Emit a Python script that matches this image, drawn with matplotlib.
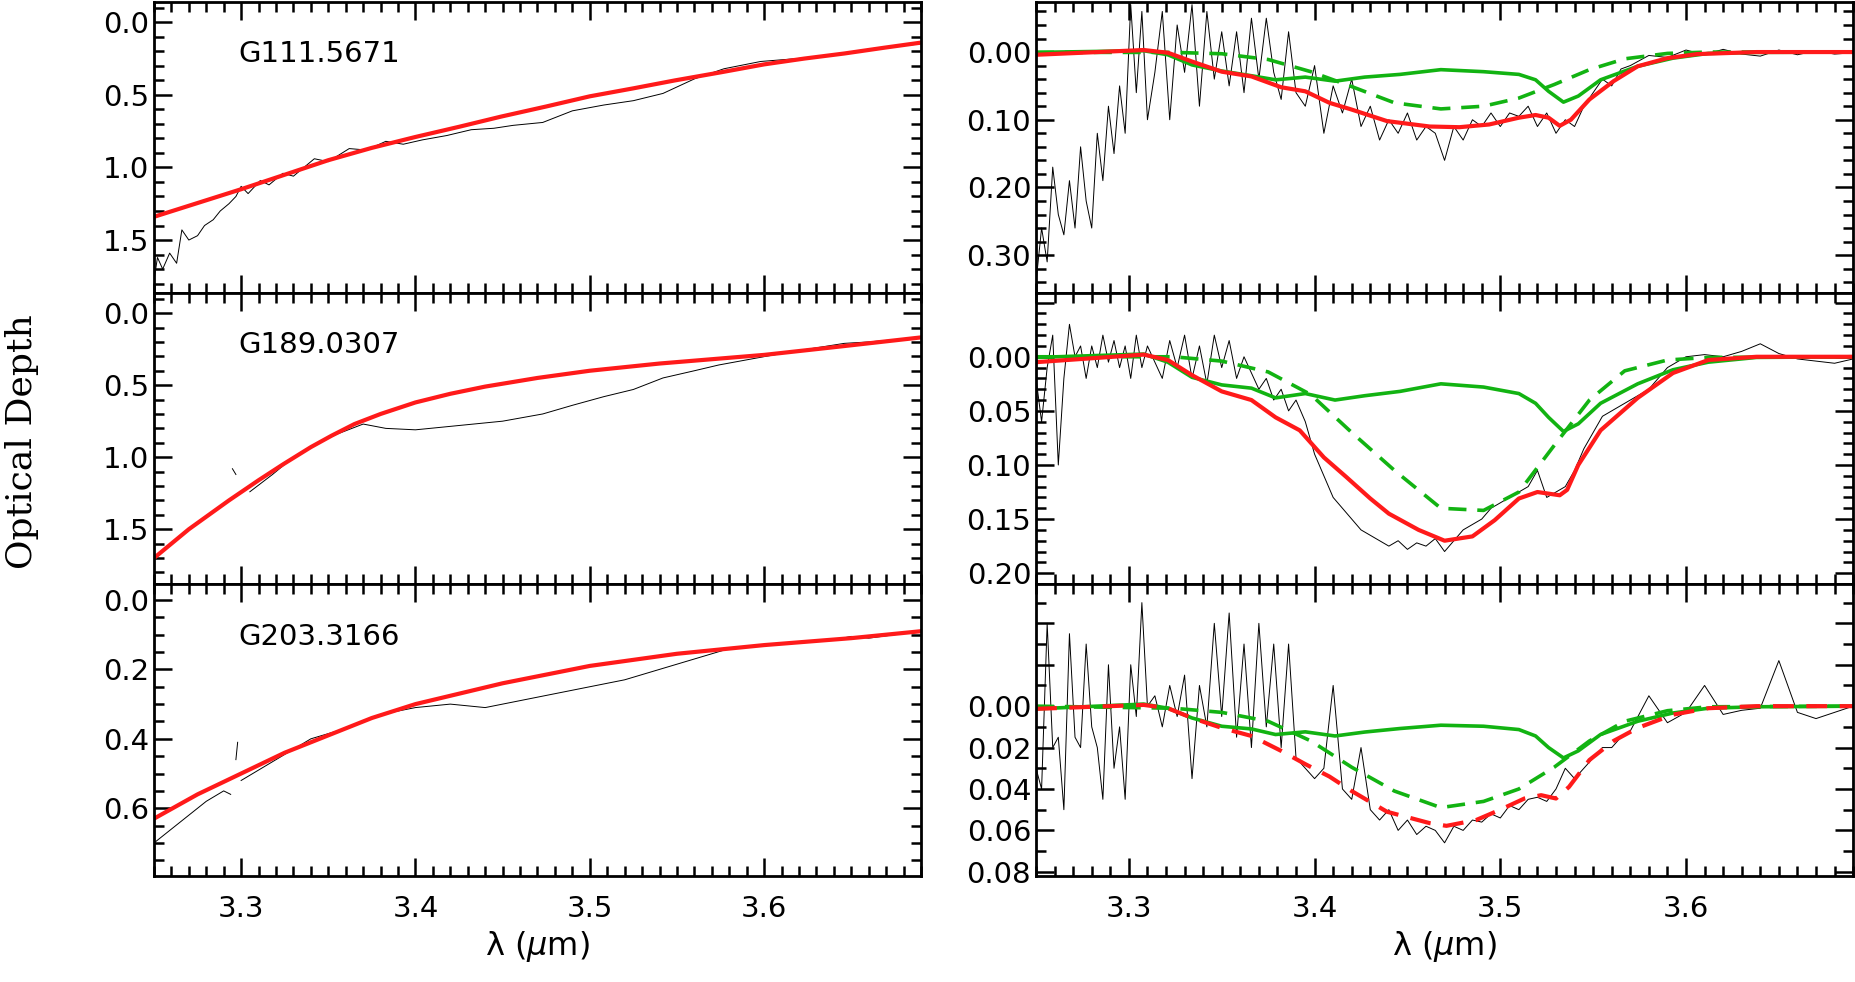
import numpy as np
import matplotlib.pyplot as plt
from matplotlib.ticker import MultipleLocator, FuncFormatter

NAMES = ["G111.5671", "G189.0307", "G203.3166"]

# ---- left panels: observed optical depth and continuum fit ----
L1_WAVE = [3.250, 3.252, 3.255, 3.259, 3.263, 3.266, 3.270, 3.275, 3.279, 3.284, 3.288, 3.293, 3.297,
           3.300, 3.304, 3.311, 3.316, 3.324, 3.330, 3.342, 3.350, 3.362, 3.372, 3.383, 3.393, 3.404,
           3.418, 3.432, 3.445, 3.456, 3.473, 3.490, 3.508, 3.525, 3.542, 3.560, 3.577, 3.598, 3.629,
           3.663, 3.689]
L1_TAU = [1.78, 1.62, 1.70, 1.59, 1.66, 1.43, 1.50, 1.47, 1.40, 1.36, 1.30, 1.25, 1.20,
          1.13, 1.18, 1.09, 1.12, 1.04, 1.06, 0.94, 0.96, 0.87, 0.88, 0.82, 0.84, 0.81,
          0.78, 0.74, 0.73, 0.71, 0.69, 0.61, 0.57, 0.54, 0.49, 0.39, 0.32, 0.27, 0.24,
          0.18, 0.15]
L1_CONT_WAVE = [3.25, 3.275, 3.30, 3.325, 3.35, 3.375, 3.40, 3.425, 3.449, 3.475, 3.50, 3.525, 3.549,
                3.575, 3.60, 3.623, 3.646, 3.669, 3.69]
L1_CONT = [1.34, 1.245, 1.15, 1.05, 0.95, 0.865, 0.79, 0.72, 0.65, 0.58, 0.51, 0.455, 0.40,
           0.345, 0.29, 0.25, 0.215, 0.175, 0.14]

L2_WAVE = [3.295, 3.297, np.nan, 3.305, 3.318, 3.33, 3.343, 3.355, 3.37, 3.383, 3.40, 3.425, 3.45,
           3.473, 3.49, 3.508, 3.525, 3.542, 3.56, 3.574, 3.601, 3.62, 3.646, 3.66, 3.689]
L2_TAU = [1.08, 1.12, np.nan, 1.24, 1.12, 1.00, 0.91, 0.84, 0.77, 0.80, 0.81, 0.78, 0.75,
          0.70, 0.64, 0.58, 0.53, 0.45, 0.40, 0.36, 0.30, 0.26, 0.21, 0.20, 0.17]
L2_CONT_WAVE = [3.25, 3.27, 3.293, 3.31, 3.324, 3.34, 3.352, 3.365, 3.38, 3.40, 3.42, 3.44, 3.47,
                3.50, 3.54, 3.57, 3.60, 3.645, 3.689]
L2_CONT = [1.70, 1.50, 1.30, 1.16, 1.05, 0.93, 0.85, 0.77, 0.70, 0.62, 0.56, 0.51, 0.45,
           0.40, 0.35, 0.32, 0.29, 0.23, 0.17]

L3_WAVE = [3.25, 3.26, 3.27, 3.28, 3.29, 3.294, np.nan, 3.297, 3.298, np.nan, 3.30, 3.32, 3.34,
           3.36, 3.38, 3.40, 3.42, 3.44, 3.46, 3.48, 3.50, 3.52, 3.54, 3.56, 3.58, 3.60, 3.62,
           3.64, 3.65, 3.66, 3.69]
L3_TAU = [0.70, 0.66, 0.62, 0.58, 0.55, 0.56, np.nan, 0.46, 0.41, np.nan, 0.52, 0.46, 0.40,
          0.37, 0.33, 0.31, 0.30, 0.31, 0.29, 0.27, 0.25, 0.23, 0.20, 0.17, 0.14, 0.13, 0.12,
          0.115, 0.105, 0.11, 0.09]
L3_CONT_WAVE = [3.25, 3.275, 3.30, 3.325, 3.35, 3.375, 3.40, 3.425, 3.45, 3.475, 3.50, 3.55, 3.60,
                3.65, 3.69]
L3_CONT = [0.63, 0.56, 0.50, 0.44, 0.39, 0.34, 0.30, 0.27, 0.24, 0.215, 0.19, 0.155, 0.13,
           0.11, 0.09]

# ---- right panels: residual aliphatic feature and fits ----
WAVE_R = [3.250, 3.253, 3.256, 3.259, 3.262, 3.265, 3.268, 3.271, 3.274, 3.277, 3.280, 3.283, 3.286,
          3.289, 3.292, 3.295, 3.298, 3.301, 3.304, 3.307, 3.310, 3.314, 3.318, 3.322, 3.326, 3.330,
          3.334, 3.338, 3.342, 3.346, 3.350, 3.354, 3.358, 3.362, 3.366, 3.370, 3.374, 3.378, 3.382,
          3.386, 3.390, 3.395, 3.400, 3.405, 3.410, 3.415, 3.420, 3.425, 3.430, 3.435, 3.440, 3.445,
          3.450, 3.455, 3.460, 3.465, 3.470, 3.475, 3.480, 3.485, 3.490, 3.495, 3.500, 3.505, 3.510,
          3.515, 3.520, 3.525, 3.530, 3.535, 3.540, 3.545, 3.550, 3.555, 3.560, 3.565, 3.570, 3.580,
          3.590, 3.600, 3.610, 3.620, 3.630, 3.640, 3.650, 3.660, 3.670, 3.680, 3.690]
R1_TAU = [0.34, 0.26, 0.31, 0.17, 0.24, 0.27, 0.19, 0.26, 0.14, 0.22, 0.26, 0.12, 0.19,
          0.08, 0.15, 0.05, 0.12, -0.07, 0.06, -0.06, 0.10, 0.03, -0.06, 0.10, -0.04, 0.03,
          -0.07, 0.08, -0.06, 0.04, -0.03, 0.05, -0.03, 0.06, -0.05, 0.04, -0.05, 0.03, 0.07,
          -0.03, 0.06, 0.08, 0.02, 0.12, 0.05, 0.09, 0.04, 0.11, 0.08, 0.13, 0.10, 0.12,
          0.09, 0.13, 0.11, 0.12, 0.16, 0.11, 0.13, 0.10, 0.11, 0.09, 0.11, 0.09, 0.095,
          0.08, 0.11, 0.09, 0.12, 0.10, 0.11, 0.08, 0.06, 0.04, 0.05, 0.025, 0.02, 0.005,
          0.008, -0.003, 0.004, -0.004, 0.003, 0.006, -0.003, 0.004, -0.002, 0.003, 0.001]
R2_TAU = [0.02, 0.06, 0.01, -0.02, 0.10, 0.02, -0.03, 0.0, -0.01, 0.02, -0.01, 0.01, -0.02,
          0.005, -0.015, 0.01, -0.01, 0.02, -0.02, 0.01, -0.01, 0.005, 0.02, -0.015, 0.01, -0.02,
          0.02, -0.01, 0.025, -0.02, 0.01, -0.015, 0.02, 0.0, 0.015, 0.03, 0.02, 0.04, 0.03,
          0.05, 0.04, 0.06, 0.09, 0.11, 0.13, 0.14, 0.15, 0.16, 0.165, 0.17, 0.175, 0.17,
          0.178, 0.172, 0.175, 0.168, 0.18, 0.17, 0.16, 0.155, 0.15, 0.14, 0.135, 0.13, 0.125,
          0.12, 0.105, 0.13, 0.125, 0.12, 0.105, 0.085, 0.07, 0.055, 0.05, 0.045, 0.04, 0.03,
          0.01, 0.0, -0.002, 0.0, -0.005, -0.012, -0.003, 0.002, 0.004, 0.006, 0.002]
R3_TAU = [0.03, 0.04, -0.04, 0.02, 0.015, 0.05, -0.035, 0.015, 0.02, -0.03, 0.01, 0.02, 0.045,
          -0.02, 0.03, 0.01, 0.045, -0.02, 0.005, -0.05, 0.0, -0.005, 0.01, -0.01, 0.005, -0.015,
          0.035, -0.01, 0.01, -0.04, 0.005, -0.045, 0.015, -0.03, 0.02, -0.04, 0.01, -0.03, 0.02,
          -0.03, 0.025, 0.03, 0.035, 0.03, -0.01, 0.04, 0.045, 0.02, 0.05, 0.055, 0.05, 0.06,
          0.055, 0.062, 0.058, 0.06, 0.066, 0.058, 0.06, 0.055, 0.056, 0.052, 0.054, 0.048, 0.05,
          0.045, 0.044, 0.046, 0.04, 0.03, 0.035, 0.03, 0.025, 0.02, 0.02, 0.015, 0.012, -0.005,
          0.008, 0.003, -0.01, 0.004, 0.002, 0.001, -0.022, 0.003, 0.006, 0.003, 0.0]

R1_FIT_WAVE = [3.250, 3.308, 3.321, 3.334, 3.350, 3.366, 3.382, 3.395, 3.408, 3.420, 3.439, 3.462, 3.478,
               3.494, 3.510, 3.519, 3.526, 3.532, 3.538, 3.548, 3.561, 3.574, 3.590, 3.606, 3.638, 3.690]
R1_FIT = [0.004, -0.003, 0.001, 0.014, 0.029, 0.036, 0.052, 0.058, 0.075, 0.085, 0.102, 0.110, 0.111,
          0.107, 0.097, 0.093, 0.097, 0.109, 0.100, 0.070, 0.043, 0.021, 0.009, 0.003, 0.0, 0.0]
R2_FIT_WAVE = [3.250, 3.308, 3.321, 3.334, 3.350, 3.366, 3.379, 3.392, 3.405, 3.417, 3.430, 3.440, 3.456,
               3.470, 3.485, 3.497, 3.510, 3.520, 3.532, 3.536, 3.542, 3.554, 3.574, 3.593, 3.612, 3.638, 3.690]
R2_FIT = [0.005, -0.002, 0.003, 0.017, 0.032, 0.040, 0.056, 0.068, 0.093, 0.111, 0.131, 0.145, 0.160,
          0.170, 0.166, 0.151, 0.131, 0.125, 0.128, 0.123, 0.100, 0.068, 0.038, 0.015, 0.003, 0.0, 0.0]
R3_FIT_WAVE = [3.250, 3.308, 3.321, 3.334, 3.350, 3.366, 3.382, 3.395, 3.408, 3.420, 3.439, 3.462, 3.471,
               3.487, 3.500, 3.513, 3.522, 3.530, 3.537, 3.548, 3.561, 3.574, 3.593, 3.612, 3.638, 3.690]
R3_FIT = [0.0013, -0.0006, 0.001, 0.0057, 0.0105, 0.0144, 0.0216, 0.028, 0.034, 0.041, 0.051, 0.0565, 0.0578,
          0.055, 0.050, 0.0446, 0.043, 0.0446, 0.039, 0.026, 0.0168, 0.0105, 0.0041, 0.001, 0.0, 0.0]

# narrow component (green solid)
NARROW_WAVE = [3.250, 3.308, 3.321, 3.334, 3.350, 3.366, 3.379, 3.395, 3.411, 3.427, 3.446, 3.468, 3.491,
               3.510, 3.519, 3.526, 3.534, 3.542, 3.554, 3.574, 3.593, 3.612, 3.638, 3.690]
R1_NARROW = [0.0005, -0.002, 0.004, 0.019, 0.028, 0.035, 0.041, 0.037, 0.043, 0.037, 0.033, 0.026, 0.029,
             0.033, 0.041, 0.058, 0.074, 0.065, 0.041, 0.021, 0.009, 0.002, 0.0005, 0.0]
R2_NARROW = [0.0006, -0.0025, 0.005, 0.019, 0.026, 0.029, 0.038, 0.034, 0.040, 0.036, 0.032, 0.025, 0.028,
             0.034, 0.043, 0.056, 0.069, 0.062, 0.043, 0.025, 0.012, 0.005, 0.0006, 0.0]
R3_NARROW = [0.0013, -0.001, 0.001, 0.0057, 0.0097, 0.011, 0.0137, 0.0124, 0.0144, 0.0125, 0.0108, 0.0092, 0.0097,
             0.0113, 0.0144, 0.020, 0.025, 0.0216, 0.0137, 0.0073, 0.0033, 0.001, 0.0003, 0.0]

# broad component (green dashed)
BROAD_WAVE = [3.250, 3.324, 3.350, 3.375, 3.398, 3.420, 3.443, 3.468, 3.491, 3.510, 3.529, 3.548, 3.567,
              3.590, 3.612, 3.690]
R1_BROAD = [0.0005, 0.0005, 0.0025, 0.011, 0.029, 0.051, 0.075, 0.084, 0.080, 0.068, 0.048, 0.026, 0.010,
            0.002, 0.0, 0.0]
R2_BROAD = [0.0, 0.0, 0.004, 0.014, 0.035, 0.070, 0.105, 0.140, 0.142, 0.125, 0.082, 0.040, 0.013,
            0.003, 0.0006, 0.0]
R3_BROAD = [0.0, 0.001, 0.003, 0.0073, 0.0168, 0.0295, 0.041, 0.049, 0.046, 0.040, 0.0295, 0.0168, 0.0073,
            0.0022, 0.0003, 0.0]

RED = "#ff1a1a"
GREEN = "#12b312"

plt.rcParams["font.family"] = "DejaVu Sans"
plt.rcParams["font.size"] = 21

fig = plt.figure(figsize=(18.55, 9.82), dpi=100)

lefts = [(0.083, 0.4135), (0.5585, 0.4405)]
rows = [(0.7016, 0.2964), (0.4053, 0.2964), (0.108, 0.2973)]

left_data = [
    (L1_WAVE, L1_TAU, L1_CONT_WAVE, L1_CONT, (1.865, -0.14), 0.5, 0.1),
    (L2_WAVE, L2_TAU, L2_CONT_WAVE, L2_CONT, (1.88, -0.14), 0.5, 0.1),
    (L3_WAVE, L3_TAU, L3_CONT_WAVE, L3_CONT, (0.795, -0.046), 0.2, 0.05),
]
right_data = [
    (R1_TAU, R1_FIT_WAVE, R1_FIT, R1_NARROW, R1_BROAD, (0.356, -0.074), 0.1, 0.02, "-"),
    (R2_TAU, R2_FIT_WAVE, R2_FIT, R2_NARROW, R2_BROAD, (0.21, -0.059), 0.05, 0.01, "-"),
    (R3_TAU, R3_FIT_WAVE, R3_FIT, R3_NARROW, R3_BROAD, (0.082, -0.059), 0.02, 0.01, "--"),
]


def style(ax, major_y, minor_y, fmt, last):
    ax.set_xlim(3.25, 3.69)
    ax.xaxis.set_major_locator(MultipleLocator(0.1))
    ax.xaxis.set_minor_locator(MultipleLocator(0.01))
    ax.yaxis.set_major_locator(MultipleLocator(major_y))
    ax.yaxis.set_minor_locator(MultipleLocator(minor_y))
    ax.yaxis.set_major_formatter(FuncFormatter(
        lambda v, p: (fmt % v) if v > -1e-9 else ""))
    ax.tick_params(which="both", direction="in", top=True, right=True, width=1.8)
    ax.tick_params(which="major", length=13)
    ax.tick_params(which="minor", length=7)
    ax.tick_params(axis="x", pad=14)
    for s in ax.spines.values():
        s.set_linewidth(2)
    if last:
        ax.set_xlabel(r"λ ($\mu$m)", fontsize=23)
    else:
        ax.set_xticklabels([])


for i, (bottom, height) in enumerate(rows):
    last = i == 2
    wl, tau, cw, cont, ylim, mj, mn = left_data[i]
    ax = fig.add_axes([lefts[0][0], bottom, lefts[0][1], height])
    ax.plot(wl, tau, color="black", lw=0.7)
    ax.plot(cw, cont, color=RED, lw=3)
    ax.set_ylim(*ylim)
    style(ax, mj, mn, "%.1f", last)
    ax.text(0.11, 0.82, NAMES[i], transform=ax.transAxes, fontsize=21, va="center")

    tau_r, fw, fit, nar, brd, ylim, mj, mn, ls = right_data[i]
    ax = fig.add_axes([lefts[1][0], bottom, lefts[1][1], height])
    ax.plot(WAVE_R, tau_r, color="black", lw=0.7)
    ax.plot(BROAD_WAVE, brd, color=GREEN, lw=2.6, ls=(0, (5, 3)))
    ax.plot(NARROW_WAVE, nar, color=GREEN, lw=2.6)
    ax.plot(fw, fit, color=RED, lw=3, ls="-" if ls == "-" else (0, (5, 3)))
    ax.set_ylim(*ylim)
    style(ax, mj, mn, "%.2f", last)

fig.text(0.012, 0.55, "Optical Depth", rotation=90, va="center", ha="center",
         fontsize=26, family="DejaVu Serif")

fig.savefig("out.png", dpi=100)
